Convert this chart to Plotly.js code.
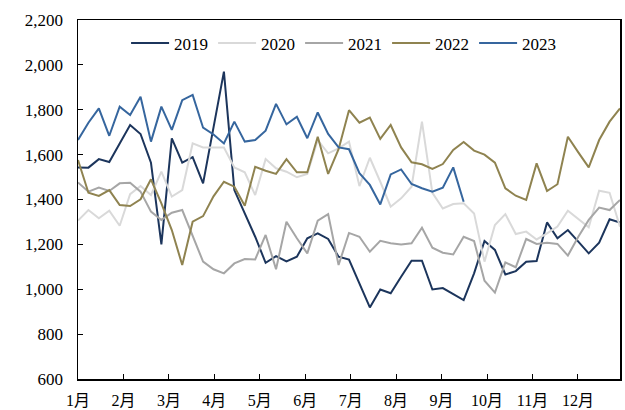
<!DOCTYPE html>
<html>
<head>
<meta charset="utf-8">
<script src="https://cdn.plot.ly/plotly-3.0.1.min.js"></script>
<style>html,body{margin:0;padding:0;background:#fff;}#chart{width:625px;height:410px;}</style>
</head>
<body>
<div id="chart"></div>
<script>
const monthLabels = ['1月','2月','3月','4月','5月','6月','7月','8月','9月','10月','11月','12月'];
const seriesNames = ['2019','2020','2021','2022','2023'];

const y2019 = [1543,1542,1580,1567,1650,1732,1692,1564,1200,1672,1564,1589,1472,1730,1970,1442,1338,1234,1118,1148,1124,1145,1227,1249,1224,1145,1132,1026,919,999,982,1056,1127,1127,999,1005,979,952,1071,1215,1175,1066,1081,1123,1126,1298,1227,1264,1212,1160,1208,1312,1297];
const y2020 = [1306,1353,1316,1350,1283,1424,1460,1420,1524,1413,1442,1650,1632,1631,1632,1543,1521,1420,1580,1539,1524,1499,1514,1665,1606,1628,1658,1460,1586,1479,1368,1405,1457,1747,1430,1360,1380,1383,1338,1123,1286,1335,1246,1257,1222,1249,1279,1350,1312,1276,1439,1430,1279];
const y2021 = [1476,1435,1453,1438,1472,1475,1435,1346,1309,1341,1353,1234,1123,1089,1071,1115,1135,1133,1242,1089,1301,1227,1160,1306,1335,1108,1251,1234,1167,1216,1205,1200,1205,1274,1185,1163,1155,1234,1215,1038,985,1120,1098,1224,1202,1207,1202,1150,1234,1309,1364,1353,1398];
const y2022 = [1576,1430,1416,1442,1375,1371,1401,1490,1383,1264,1108,1301,1326,1414,1479,1457,1372,1546,1528,1514,1580,1521,1521,1680,1514,1624,1798,1742,1765,1670,1732,1632,1566,1557,1536,1558,1621,1656,1618,1600,1564,1450,1417,1398,1561,1438,1468,1680,1610,1543,1665,1747,1806];
const y2023 = [1665,1742,1806,1684,1814,1777,1858,1658,1814,1710,1843,1866,1720,1690,1650,1747,1658,1665,1707,1826,1735,1769,1673,1788,1692,1632,1624,1517,1465,1378,1512,1534,1469,1450,1435,1453,1543,1390];

const colors = ['#1c355c','#d9d9d9','#a6a6a6','#8f8350','#36669e'];
const allY = [y2019,y2020,y2021,y2022,y2023];

const weeks = n => Array.from({length:n},(_,i)=>i);
const traces = allY.map((ys,k)=>({
  type:'scatter', mode:'lines', name:seriesNames[k],
  x: weeks(ys.length), y: ys,
  line:{color:colors[k], width:2}
}));

const monthStep = 4.36;
const tickvals = monthLabels.map((_,i)=>i*monthStep);

const fontFam = '"Liberation Serif","Times New Roman","Noto Sans CJK SC",serif';
const layout = {
  width:625, height:410,
  margin:{l:78, r:5, t:20, b:31},
  paper_bgcolor:'#fff', plot_bgcolor:'#fff',
  font:{family:fontFam, size:17, color:'#000'},
  showlegend:true,
  legend:{orientation:'h', x:0.49, xanchor:'center', y:0.935, yanchor:'middle', itemwidth:38,
          font:{family:fontFam, size:17, color:'#000'}, bgcolor:'rgba(0,0,0,0)', tracegroupgap:0},
  xaxis:{range:[0,52], tickmode:'array', tickvals:tickvals, ticktext:monthLabels,
         showgrid:false, zeroline:false, showline:true, linecolor:'#000', linewidth:1.5, mirror:true,
         ticks:'inside', ticklen:5, tickcolor:'#000', tickwidth:1, ticklabelstandoff:6,
         tickfont:{family:fontFam, size:16, color:'#000'}},
  yaxis:{range:[600,2200], dtick:200, tick0:600, tickformat:',d',
         showgrid:false, zeroline:false, showline:true, linecolor:'#000', linewidth:1.5, mirror:true,
         ticks:'inside', ticklen:5, tickcolor:'#000', tickwidth:1, ticklabelstandoff:10,
         tickfont:{family:fontFam, size:17, color:'#000'}}
};
Plotly.newPlot('chart', traces, layout, {staticPlot:true, displayModeBar:false});
</script>
</body>
</html>
